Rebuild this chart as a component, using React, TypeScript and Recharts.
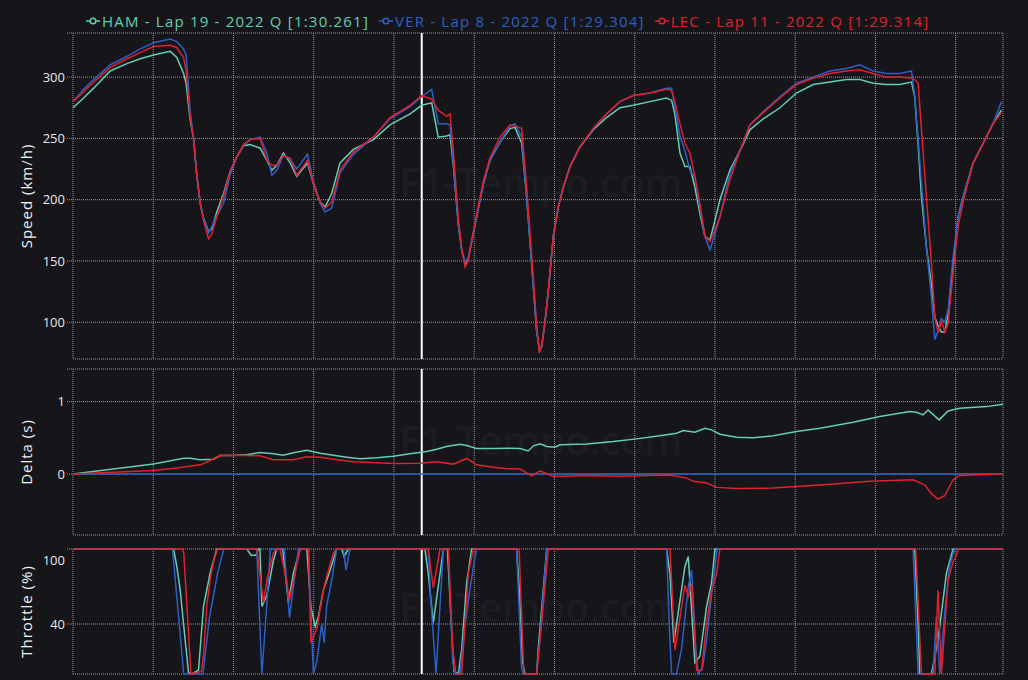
import React from "react";
import { LineChart, Line, XAxis, YAxis, CartesianGrid, ReferenceLine } from "recharts";

const BG = "#15151a";
const GRID = "#9a9a9a";
const FONT = "'Open Sans', sans-serif";

const drivers = ["HAM", "VER", "LEC"];
const driverColors = ["#63cfb5", "#2d60c6", "#e0202e"];
const legendLabels = [
  "HAM - Lap 19 - 2022 Q [1:30.261]",
  "VER - Lap 8 - 2022 Q [1:29.304]",
  "LEC - Lap 11 - 2022 Q [1:29.314]",
];

const lapLength = 5795;
const cursorDist = 2173;
const xTicks = [0, 500, 1000, 1500, 2000, 2500, 3000, 3500, 4000, 4500, 5000, 5500, 5795];

// speed trace, metres / km/h
const speedDist = [
  0, 66, 129, 232, 336, 419, 502, 606, 647, 689,
  705, 730, 751, 772, 793, 813, 845, 865, 896, 938,
  979, 1021, 1062, 1104, 1166, 1208, 1239, 1270, 1311, 1353,
  1394, 1461, 1498, 1540, 1571, 1612, 1664, 1747, 1872, 1975,
  2100, 2173, 2235, 2276, 2328, 2349, 2370, 2401, 2422, 2443,
  2463, 2484, 2515, 2557, 2598, 2661, 2723, 2754, 2796, 2827,
  2858, 2889, 2906, 2920, 2941, 2962, 2993, 3024, 3055, 3097,
  3159, 3242, 3325, 3408, 3491, 3595, 3698, 3730, 3750, 3782,
  3813, 3844, 3875, 3907, 3938, 3969, 4000, 4031, 4093, 4156,
  4218, 4301, 4405, 4508, 4612, 4716, 4820, 4903, 4986, 5069,
  5152, 5225, 5245, 5266, 5287, 5318, 5349, 5370, 5391, 5411,
  5432, 5453, 5484, 5515, 5546, 5609, 5671, 5733, 5785,
];
const hamSpeed = [
  275, 283, 291, 305, 311, 315, 318, 321, 316, 303,
  295, 265, 250, 219, 197, 185, 174, 176, 190, 205,
  223, 235, 244, 245, 242, 232, 224, 228, 238, 230,
  219, 230, 213, 198, 194, 205, 230, 241, 249, 261,
  270, 277, 279, 251, 252, 253, 228, 180, 159, 148,
  152, 166, 186, 213, 232, 247, 258, 259, 246, 202,
  148, 93, 78, 80, 100, 126, 170, 194, 210, 227,
  243, 257, 267, 275, 277, 280, 283, 281, 270, 238,
  227, 227, 210, 188, 170, 167, 183, 200, 224, 240,
  257, 266, 275, 287, 294, 296, 298, 298, 295, 294,
  294, 296, 284, 245, 202, 161, 131, 104, 97, 92,
  92, 106, 148, 186, 202, 230, 246, 262, 273,
];
const verSpeed = [
  280, 290, 298, 310, 317, 323, 328, 331, 329, 323,
  318, 272, 250, 219, 197, 185, 173, 178, 187, 197,
  220, 235, 244, 249, 251, 238, 220, 224, 236, 233,
  225, 237, 215, 197, 190, 193, 222, 237, 251, 266,
  276, 284, 290, 262, 262, 261, 230, 180, 159, 149,
  152, 166, 186, 213, 232, 247, 260, 262, 251, 202,
  148, 93, 78, 80, 100, 126, 170, 194, 210, 227,
  243, 258, 270, 280, 285, 287, 291, 291, 276, 252,
  240, 224, 218, 192, 170, 159, 172, 186, 221, 240,
  261, 272, 284, 295, 300, 305, 307, 310, 305, 303,
  303, 305, 284, 250, 213, 161, 120, 86, 93, 103,
  100, 110, 153, 186, 202, 230, 246, 262, 280,
];
const lecSpeed = [
  280, 288, 296, 308, 315, 320, 325, 326, 324, 316,
  305, 268, 250, 219, 197, 183, 168, 172, 186, 203,
  223, 235, 245, 249, 250, 232, 228, 228, 236, 234,
  220, 232, 213, 198, 193, 198, 224, 239, 251, 267,
  277, 285, 282, 273, 268, 270, 240, 185, 160, 145,
  150, 166, 188, 215, 234, 251, 261, 260, 258, 210,
  155, 98, 75, 80, 100, 126, 170, 194, 210, 227,
  243, 258, 270, 280, 285, 287, 290, 289, 280, 262,
  246, 238, 219, 196, 170, 166, 175, 186, 216, 240,
  261, 271, 283, 294, 299, 303, 305, 306, 303, 300,
  300, 299, 298, 295, 257, 202, 148, 104, 91, 101,
  92, 99, 140, 178, 198, 230, 246, 262, 271,
];

// gap to VER, seconds
const hamDeltaDist = [
  0, 502, 689, 730, 793, 876, 917, 1000, 1083, 1166,
  1249, 1311, 1374, 1457, 1540, 1623, 1706, 1789, 1892, 1996,
  2100, 2204, 2266, 2328, 2411, 2453, 2515, 2619, 2723, 2786,
  2837, 2869, 2910, 2952, 3003, 3035, 3201, 3367, 3512, 3657,
  3761, 3803, 3875, 3938, 3979, 4031, 4135, 4238, 4363, 4508,
  4654, 4861, 5027, 5214, 5256, 5297, 5328, 5397, 5453, 5525,
  5692, 5795,
];
const hamDelta = [
  0, 0.138, 0.22, 0.22, 0.197, 0.206, 0.257, 0.257, 0.266, 0.298,
  0.28, 0.261, 0.294, 0.33, 0.289, 0.261, 0.234, 0.211, 0.225, 0.248,
  0.28, 0.312, 0.344, 0.38, 0.413, 0.394, 0.353, 0.353, 0.358, 0.353,
  0.32, 0.39, 0.417, 0.38, 0.37, 0.404, 0.417, 0.45, 0.486, 0.528,
  0.564, 0.6, 0.578, 0.633, 0.61, 0.55, 0.509, 0.5, 0.528, 0.587,
  0.633, 0.716, 0.794, 0.862, 0.853, 0.817, 0.885, 0.748, 0.872, 0.908,
  0.931, 0.963,
];
const verDeltaDist = [0, 5795];
const verDelta = [0, 0];
const lecDeltaDist = [
  0, 502, 647, 793, 855, 896, 928, 1083, 1166, 1249,
  1374, 1457, 1540, 1623, 1747, 1892, 1996, 2162, 2266, 2370,
  2453, 2515, 2619, 2702, 2786, 2858, 2910, 2993, 3201, 3408,
  3720, 3823, 3865, 3948, 4010, 4135, 4363, 4654, 4965, 5235,
  5307, 5349, 5390, 5432, 5484, 5525, 5795,
];
const lecDelta = [
  0, 0.05, 0.083, 0.128, 0.188, 0.234, 0.26, 0.257, 0.252, 0.197,
  0.197, 0.239, 0.234, 0.206, 0.17, 0.156, 0.147, 0.151, 0.17, 0.138,
  0.216, 0.128, 0.096, 0.073, 0.069, -0.023, 0.046, -0.032, -0.018, -0.028,
  -0.014, -0.055, -0.1, -0.124, -0.183, -0.2, -0.193, -0.151, -0.1, -0.078,
  -0.147, -0.27, -0.344, -0.298, -0.078, -0.018, 0.005,
];

// throttle, percent
const hamThrottleDist = [
  0, 627, 647, 668, 699, 720, 741, 782, 813, 855,
  896, 1083, 1110, 1140, 1155, 1165, 1177, 1208, 1249, 1270,
  1307, 1342, 1374, 1415, 1457, 1482, 1509, 1529, 1560, 1602,
  1643, 1675, 1689, 1716, 2193, 2214, 2245, 2276, 2308, 2333,
  2353, 2374, 2401, 2422, 2453, 2484, 2764, 2780, 2801, 2816,
  2889, 2900, 2952, 3699, 3720, 3744, 3813, 3834, 3875, 3906,
  3948, 3979, 4000, 5245, 5266, 5276, 5349, 5390, 5443, 5484,
  5795,
];
const hamThrottle = [
  100, 100, 86, 67, 27, 1, 0, 3, 54, 81,
  100, 100, 95, 95, 100, 100, 54, 63, 91, 100,
  100, 57, 81, 100, 100, 54, 38, 46, 67, 83,
  100, 100, 94, 100, 100, 80, 41, 70, 100, 100,
  50, 2, 0, 20, 73, 100, 100, 70, 10, 0,
  0, 22, 100, 100, 80, 25, 86, 94, 9, 14,
  54, 73, 100, 100, 40, 0, 0, 27, 81, 100,
  100,
];
const verThrottleDist = [
  0, 620, 690, 810, 850, 900, 917, 940, 1145, 1177,
  1210, 1230, 1316, 1349, 1374, 1405, 1467, 1498, 1519, 1550,
  1565, 1581, 1612, 1643, 1685, 1701, 1726, 2214, 2229, 2262,
  2287, 2308, 2339, 2366, 2380, 2411, 2442, 2494, 2515, 2764,
  2795, 2805, 2889, 2910, 2952, 3699, 3715, 3730, 3761, 3792,
  3834, 3855, 3881, 3896, 3923, 3948, 3989, 4014, 5235, 5266,
  5359, 5380, 5401, 5432, 5463, 5494, 5795,
];
const verThrottle = [
  100, 100, 0, 0, 45, 80, 89, 100, 100, 0,
  60, 100, 100, 45, 70, 100, 100, 0, 10, 40,
  25, 55, 75, 100, 100, 83, 100, 100, 60, 0,
  55, 100, 100, 10, 0, 0, 40, 85, 100, 100,
  5, 0, 0, 30, 100, 100, 40, 0, 0, 20,
  70, 83, 20, 0, 5, 27, 75, 100, 100, 0,
  0, 46, 0, 50, 87, 100, 100,
];
const lecThrottleDist = [
  0, 680, 690, 735, 800, 813, 834, 860, 880, 900,
  1145, 1187, 1208, 1249, 1270, 1290, 1330, 1349, 1390, 1415,
  1467, 1482, 1519, 1560, 1581, 1623, 1643, 2214, 2245, 2287,
  2339, 2366, 2386, 2422, 2463, 2494, 2780, 2809, 2889, 2920,
  2962, 3720, 3751, 3813, 3834, 3855, 3886, 3917, 3948, 3979,
  4010, 4031, 5251, 5287, 5370, 5390, 5411, 5453, 5484, 5505,
  5515, 5795,
];
const lecThrottle = [
  100, 100, 97, 0, 2, 15, 55, 80, 92, 100,
  100, 57, 75, 97, 100, 100, 75, 59, 85, 100,
  100, 25, 36, 67, 78, 97, 100, 100, 69, 100,
  100, 20, 0, 0, 80, 100, 100, 0, 0, 40,
  100, 100, 19, 71, 62, 72, 3, 3, 41, 67,
  80, 100, 100, 0, 0, 67, 0, 75, 90, 95,
  100, 100,
];

const rows = (ds: number[], vs: number[]) => ds.map((d, i) => ({ d, v: vs[i] }));

const speedSeries = [hamSpeed, verSpeed, lecSpeed].map((vs) => rows(speedDist, vs));
const deltaSeries = [
  rows(hamDeltaDist, hamDelta),
  rows(verDeltaDist, verDelta),
  rows(lecDeltaDist, lecDelta),
];
const throttleSeries = [
  rows(hamThrottleDist, hamThrottle),
  rows(verThrottleDist, verThrottle),
  rows(lecThrottleDist, lecThrottle),
];

const AxisTick = (props: any) => {
  const { x, y, payload, hidden, shift } = props;
  if (hidden.includes(payload.value)) return <g />;
  const dy = shift && shift[payload.value] ? shift[payload.value] : 0;
  return (
    <text x={x} y={y + dy} dy="0.35em" textAnchor="end" fill="#e8e8e8" fontSize={13} fontFamily={FONT}>
      {payload.value}
    </text>
  );
};

interface PanelProps {
  top: number;
  height: number;
  mTop: number;
  mBottom: number;
  domain: number[];
  ticks: number[];
  hidden: number[];
  shift?: Record<number, number>;
  label: string;
  series: { d: number; v: number }[][];
}

const Panel: React.FC<PanelProps> = ({ top, height, mTop, mBottom, domain, ticks, hidden, shift, label, series }) => (
  <div style={{ position: "absolute", left: 0, top }}>
    <LineChart width={1028} height={height} margin={{ top: mTop, right: 25, bottom: mBottom, left: 0 }}>
      <CartesianGrid stroke={GRID} strokeDasharray="1 1" />
      <XAxis type="number" dataKey="d" domain={[0, lapLength]} ticks={xTicks} hide />
      <YAxis
        type="number"
        domain={domain}
        ticks={ticks}
        width={73}
        axisLine={false}
        tickLine={{ stroke: GRID, strokeDasharray: "1 1" }}
        tick={(p: any) => <AxisTick {...p} hidden={hidden} shift={shift} />}
        label={{
          value: label,
          angle: -90,
          position: "insideLeft",
          offset: 27,
          style: { textAnchor: "middle", fill: "#f2f2f2", fontSize: 15, fontFamily: FONT, letterSpacing: 1 },
        }}
      />
      <ReferenceLine x={cursorDist} stroke="#ffffff" strokeWidth={2} />
      {series.map((data, i) => (
        <Line
          key={drivers[i]}
          data={data}
          dataKey="v"
          type="linear"
          stroke={driverColors[i]}
          strokeWidth={1.5}
          dot={false}
          isAnimationActive={false}
        />
      ))}
    </LineChart>
  </div>
);

const LegendIcon = ({ color }: { color: string }) => (
  <svg width={14} height={10} style={{ marginRight: 2 }}>
    <line x1={0} y1={5} x2={14} y2={5} stroke={color} strokeWidth={1.5} />
    <circle cx={7} cy={5} r={2.8} fill={BG} stroke={color} strokeWidth={1.5} />
  </svg>
);

export default function App() {
  return (
    <div style={{ position: "absolute", left: 0, top: 0, width: 1028, height: 680, background: BG, overflow: "hidden" }}>
      <svg width={1028} height={680} style={{ position: "absolute", left: 0, top: 0 }}>
        {[197, 455, 622].map((y) => (
          <text key={y} x={541} y={y} textAnchor="middle" fill="#1c1c22" fontSize={40} fontWeight={600} fontFamily={FONT}>
            F1-Tempo.com
          </text>
        ))}
      </svg>
      <Panel
        top={0}
        height={362}
        mTop={33}
        mBottom={3}
        domain={[70, 336]}
        ticks={[70, 100, 150, 200, 250, 300, 336]}
        hidden={[70, 336]}
        label="Speed (km/h)"
        series={speedSeries}
      />
      <Panel
        top={362}
        height={178}
        mTop={7}
        mBottom={5}
        domain={[-0.84, 1.45]}
        ticks={[-0.84, 0, 1, 1.45]}
        hidden={[-0.84, 1.45]}
        label="Delta (s)"
        series={deltaSeries}
      />
      <Panel
        top={540}
        height={140}
        mTop={9}
        mBottom={6}
        domain={[0, 100]}
        ticks={[0, 40, 100]}
        hidden={[0]}
        shift={{ 100: 11 }}
        label="Throttle (%)"
        series={throttleSeries}
      />
      <div
        style={{
          position: "absolute",
          left: 86,
          top: 11,
          display: "flex",
          alignItems: "center",
          fontFamily: FONT,
          fontSize: 15,
          lineHeight: "20px",
          letterSpacing: 1.2,
          whiteSpace: "nowrap",
        }}
      >
        {legendLabels.map((t, i) => (
          <div key={t} style={{ display: "flex", alignItems: "center", marginRight: 10, color: driverColors[i] }}>
            <LegendIcon color={driverColors[i]} />
            <span>{t}</span>
          </div>
        ))}
      </div>
    </div>
  );
}
